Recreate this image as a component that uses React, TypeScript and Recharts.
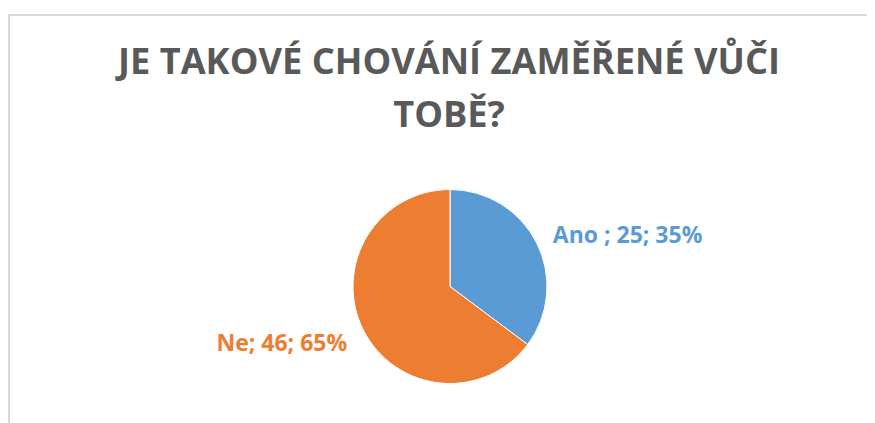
import * as React from "react"
import { Cell, Pie, PieChart } from "recharts"

// Survey answers: "Je takové chování zaměřené vůči tobě?"
const categories = ["Ano ", "Ne"]
const counts = [25, 46]
const percents = ["35%", "65%"]
const colors = ["#5B9BD5", "#ED7D31"]
const titleLines = ["JE TAKOVÉ CHOVÁNÍ ZAMĚŘENÉ VŮČI", "TOBĚ?"]

const data = categories.map((name, i) => ({ name, value: counts[i], pct: percents[i] }))

const FONT = "'Open Sans', 'Noto Sans', sans-serif"

function renderLabel(props: any) {
  const { cx, cy, midAngle, outerRadius, index } = props
  const rad = (Math.PI / 180) * midAngle
  const cos = Math.cos(rad)
  const sin = Math.sin(rad)
  const x = cx + cos * (outerRadius + 18)
  const y = cy - sin * (outerRadius + 24) + 1.5
  const d = data[index]
  return (
    <text
      x={x}
      y={y}
      fill={colors[index]}
      textAnchor={cos >= 0 ? "start" : "end"}
      dominantBaseline="central"
      fontFamily={FONT}
      fontWeight={700}
      fontSize={23}
    >
      {`${d.name}; ${d.value}; ${d.pct}`}
    </text>
  )
}

export default function App() {
  return (
    <div style={{ position: "relative", width: 867, height: 415, overflow: "hidden", background: "#fff" }}>
      <div
        style={{
          position: "absolute",
          left: 0,
          top: 6,
          width: 900,
          height: 500,
          borderLeft: "2px solid #D9D9D9",
          borderTop: "2px solid #D9D9D9",
          boxSizing: "border-box",
        }}
      />
      {titleLines.map((line, i) => (
        <div
          key={i}
          style={{
            position: "absolute",
            left: 0,
            width: 882,
            top: 26 + i * 53,
            textAlign: "center",
            fontFamily: FONT,
            fontWeight: 700,
            fontSize: 36.2,
            lineHeight: "52px",
            color: "#595959",
            whiteSpace: "nowrap",
          }}
        >
          {line}
        </div>
      ))}
      <PieChart
        width={867}
        height={415}
        margin={{ top: 0, right: 0, bottom: 0, left: 0 }}
        style={{ position: "absolute", left: 0, top: 0 }}
      >
        <Pie
          data={data}
          dataKey="value"
          nameKey="name"
          cx={442}
          cy={278.5}
          outerRadius={97}
          startAngle={90}
          endAngle={-270}
          stroke="#fff"
          strokeWidth={1}
          label={renderLabel}
          labelLine={false}
          isAnimationActive={false}
        >
          {data.map((_, i) => (
            <Cell key={i} fill={colors[i]} />
          ))}
        </Pie>
      </PieChart>
    </div>
  )
}
